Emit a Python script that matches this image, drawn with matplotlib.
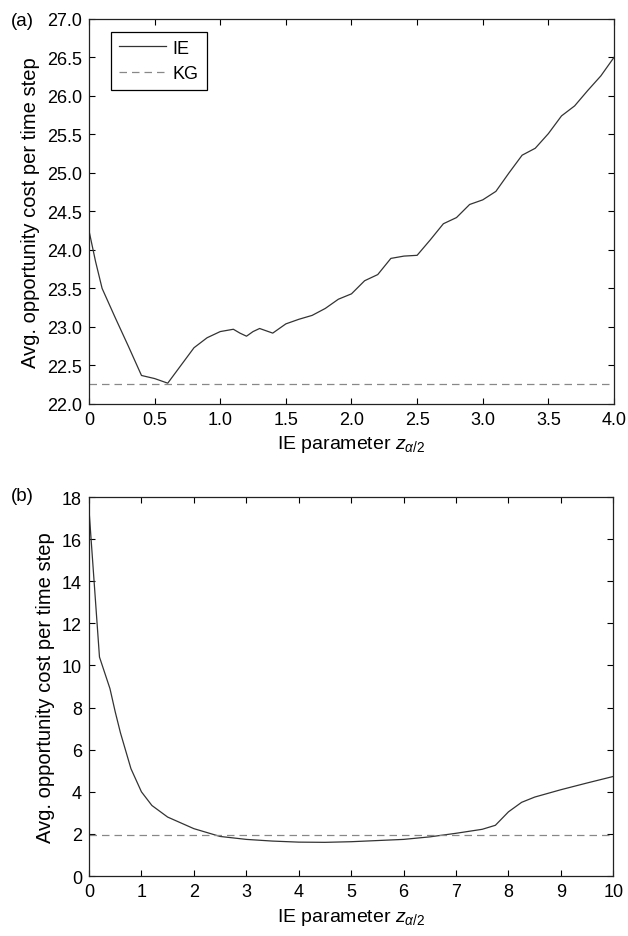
import matplotlib
matplotlib.use('Agg')
import matplotlib.pyplot as plt

plt.rcParams['font.family'] = ['Liberation Sans', 'DejaVu Sans']
plt.rcParams['mathtext.fontset'] = 'custom'
plt.rcParams['mathtext.rm'] = 'Liberation Sans'
plt.rcParams['mathtext.it'] = 'Liberation Sans:italic'

# panel (a)
z_a = [0.0, 0.05, 0.1, 0.2, 0.3, 0.4, 0.5, 0.6, 0.7, 0.8, 0.9, 1.0, 1.1, 1.15,
       1.2, 1.25, 1.3, 1.35, 1.4, 1.5, 1.6, 1.7, 1.8, 1.9, 2.0, 2.1, 2.2,
       2.3, 2.4, 2.5, 2.6, 2.7, 2.8, 2.9, 3.0, 3.1, 3.2, 3.3, 3.4, 3.5, 3.6,
       3.7, 3.8, 3.9, 4.0]
ie_a = [24.25, 23.85, 23.5, 23.12, 22.75, 22.37, 22.33, 22.27, 22.5, 22.73,
        22.86, 22.94, 22.97, 22.92, 22.88, 22.94, 22.98, 22.95, 22.92, 23.04,
        23.10, 23.15, 23.24, 23.36, 23.43, 23.60, 23.68, 23.89, 23.92, 23.93,
        24.13, 24.34, 24.42, 24.59, 24.65, 24.76, 25.0, 25.23, 25.32, 25.51,
        25.74, 25.87, 26.07, 26.26, 26.5]
kg_a = 22.26

# panel (b)
z_b = [0.0, 0.2, 0.4, 0.5, 0.6, 0.8, 1.0, 1.2, 1.5, 2.0, 2.5, 3.0, 3.5, 4.0,
       4.5, 5.0, 6.0, 6.5, 7.0, 7.5, 7.75, 8.0, 8.25, 8.5, 9.0, 9.5, 10.0]
ie_b = [17.4, 10.4, 8.9, 7.8, 6.8, 5.1, 4.0, 3.35, 2.8, 2.25, 1.88, 1.74,
        1.66, 1.61, 1.6, 1.63, 1.74, 1.86, 2.03, 2.22, 2.41, 3.05, 3.5, 3.75,
        4.1, 4.42, 4.73]
kg_b = 1.95

xticks_a = [0, 0.5, 1.0, 1.5, 2.0, 2.5, 3.0, 3.5, 4.0]
xticklabels_a = ['0', '0.5', '1.0', '1.5', '2.0', '2.5', '3.0', '3.5', '4.0']
yticks_a = [22.0, 22.5, 23.0, 23.5, 24.0, 24.5, 25.0, 25.5, 26.0, 26.5, 27.0]
xticks_b = list(range(0, 11))
yticks_b = list(range(0, 19, 2))

line_col = '#333333'
kg_col = '#888888'

fig = plt.figure(figsize=(6.28, 9.37), dpi=100)
ax1 = fig.add_axes([0.1417, 0.5678, 0.836, 0.411])
ax2 = fig.add_axes([0.1417, 0.064, 0.835, 0.4045])


def style(ax):
    ax.tick_params(direction='in', top=True, right=True, length=4,
                   width=0.8, labelsize=13, colors='black', pad=5)
    for s in ax.spines.values():
        s.set_linewidth(0.9)
        s.set_color('#222222')
    ax.set_xlabel(r'IE parameter $z_{\alpha/2}$', fontsize=14, labelpad=4)
    ax.set_ylabel('Avg. opportunity cost per time step', fontsize=14.5, labelpad=5)


ax1.plot(z_a, ie_a, color=line_col, lw=0.9, label='IE')
ax1.axhline(kg_a, color=kg_col, lw=0.9, ls=(0, (6, 4)), label='KG')
ax1.set_xlim(0, 4)
ax1.set_ylim(22, 27)
ax1.set_xticks(xticks_a)
ax1.set_xticklabels(xticklabels_a)
ax1.set_yticks(yticks_a)
ax1.set_yticklabels([f'{v:.1f}' for v in yticks_a])
style(ax1)
leg = ax1.legend(loc='upper left', fontsize=13, fancybox=False,
                 edgecolor='black', framealpha=1, handlelength=2.6,
                 handletextpad=0.35, borderpad=0.45, labelspacing=0.45,
                 borderaxespad=0.0, bbox_to_anchor=(0.042, 0.967))
leg.get_frame().set_linewidth(0.9)

ax2.plot(z_b, ie_b, color=line_col, lw=0.9)
ax2.axhline(kg_b, color=kg_col, lw=0.9, ls=(0, (6, 4)))
ax2.set_xlim(0, 10)
ax2.set_ylim(0, 18)
ax2.set_xticks(xticks_b)
ax2.set_yticks(yticks_b)
style(ax2)

fig.text(0.018, 0.977, '(a)', fontsize=13.5, va='center')
fig.text(0.018, 0.470, '(b)', fontsize=13.5, va='center')

fig.savefig('out.png', dpi=100)
